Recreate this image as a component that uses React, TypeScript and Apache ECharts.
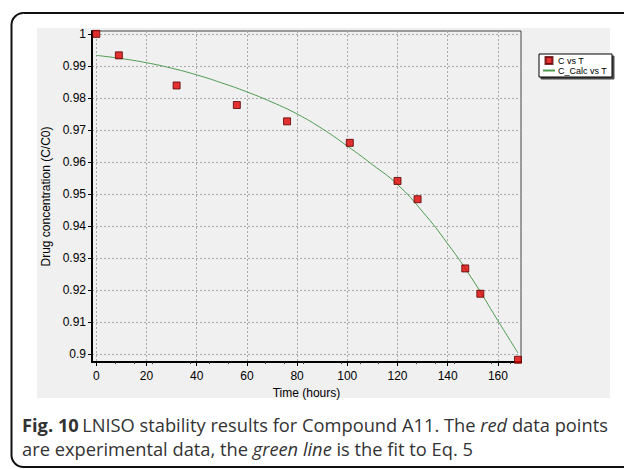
import React, { useEffect, useRef } from "react";
import * as echarts from "echarts";

const timeHours = [0, 9, 32, 56, 76, 101, 120, 128, 147, 153, 168];
const concentration = [1.0, 0.9933, 0.9839, 0.9778, 0.9727, 0.966, 0.9541, 0.9484, 0.9268, 0.9189, 0.8983];

const fitTime = [0, 10, 20, 30, 40, 50, 60, 70, 80, 90, 100, 110, 120, 130, 140, 150, 160, 168];
const fitConc = [0.9933, 0.9923, 0.991, 0.9893, 0.9872, 0.9847, 0.9819, 0.9787, 0.975, 0.9704, 0.965, 0.9592, 0.953, 0.9445, 0.9345, 0.9232, 0.9105, 0.9004];

const xTicks = [0, 20, 40, 60, 80, 100, 120, 140, 160];
const yTicks = [0.9, 0.91, 0.92, 0.93, 0.94, 0.95, 0.96, 0.97, 0.98, 0.99, 1.0];

const seriesNames = ["C vs T", "C_Calc vs T"];

export default function App() {
  const ref = useRef<HTMLDivElement>(null);
  useEffect(() => {
    document.body.style.margin = "0";
    if (!ref.current) return;
    const chart = echarts.init(ref.current, null, { renderer: "svg" });
    const font = "Liberation Sans, Arial, sans-serif";
    const capFont = "Open Sans";
    const capSize = 18.3;
    chart.setOption({
      animation: false,
      backgroundColor: "#ffffff",
      textStyle: { fontFamily: font },
      grid: {
        left: 92,
        right: 103,
        top: 31,
        bottom: 107,
        show: true,
        backgroundColor: "#f0f0f0",
        borderColor: "#444",
        borderWidth: 1,
        containLabel: false,
      },
      legend: {
        data: [
          { name: seriesNames[0], icon: "path://M0,0h10v10h-10z" },
          { name: seriesNames[1], itemStyle: { color: "rgba(0,0,0,0)", borderWidth: 0 } },
        ],
        orient: "vertical",
        left: 539,
        top: 54,
        padding: [2, 5, 2, 3],
        itemGap: 1,
        itemWidth: 12,
        itemHeight: 7,
        symbolKeepAspect: true,
        backgroundColor: "#ffffff",
        borderColor: "#000",
        borderWidth: 1,
        shadowColor: "rgba(0,0,0,0.7)",
        shadowBlur: 0,
        shadowOffsetX: 2,
        shadowOffsetY: 2,
        textStyle: { fontSize: 9, color: "#000", fontFamily: font, padding: [0, 0, 0, -2] },
      },
      xAxis: {
        type: "value",
        min: -1.7,
        max: 169.2,
        name: "Time (hours)",
        nameLocation: "middle",
        nameGap: 23,
        nameTextStyle: { fontSize: 12, color: "#000", fontFamily: font },
        axisLine: { show: true, onZero: false, lineStyle: { color: "#000", width: 2 } },
        axisTick: { show: true, customValues: xTicks, length: 4, lineStyle: { color: "#000" } },
        minorTick: { show: true, splitNumber: 4, length: 2, lineStyle: { color: "#333" } },
        axisLabel: {
          customValues: xTicks,
          fontSize: 12,
          color: "#000",
          margin: 8,
          fontFamily: font,
        },
        splitLine: {
          show: true,
          lineStyle: { color: "#aaa", type: [2, 2], width: 1 },
        },
      },
      yAxis: {
        type: "value",
        min: 0.8976,
        max: 1.0009,
        name: "Drug concentration (C/C0)",
        nameLocation: "middle",
        nameGap: 40,
        nameTextStyle: { fontSize: 12, color: "#000", fontFamily: font },
        axisLine: { show: true, onZero: false, lineStyle: { color: "#000", width: 2 } },
        axisTick: { show: true, customValues: yTicks, length: 4, lineStyle: { color: "#000" } },
        axisLabel: {
          customValues: yTicks,
          fontSize: 12,
          color: "#000",
          margin: 6,
          fontFamily: font,
          formatter: (v: number) => String(+v.toFixed(2)),
        },
        splitLine: {
          show: true,
          lineStyle: { color: "#aaa", type: [2, 2], width: 1 },
        },
      },
      graphic: [
        {
          type: "rect",
          z: -10,
          silent: true,
          shape: { x: 37, y: 28, width: 573, height: 370 },
          style: { fill: "#f0f0f0" },
        },
        {
          type: "rect",
          z: -5,
          silent: true,
          shape: { x: 11.5, y: 13, width: 700, height: 454, r: 12 },
          style: { fill: "none", stroke: "#111", lineWidth: 2 },
        },
        {
          type: "text",
          left: 22,
          top: 412,
          silent: true,
          style: {
            text:
              "{b|Fig. 10} {n|LNISO stability results for Compound A11. The }{i|red}{n| data points}\n{n|are experimental data, the }{i|green line}{n| is the fit to Eq. 5}",
            lineHeight: 24,
            fill: "#333",
            rich: {
              b: { fontFamily: capFont, fontSize: capSize, fontWeight: "bold", fill: "#333", lineHeight: 24 },
              n: { fontFamily: capFont, fontSize: capSize, fill: "#333", lineHeight: 24 },
              i: { fontFamily: capFont, fontSize: capSize, fontStyle: "italic", fill: "#333", lineHeight: 24 },
            },
          },
        },
      ],
      series: [
        {
          name: seriesNames[0],
          type: "scatter",
          symbol: "rect",
          symbolSize: 7,
          z: 5,
          itemStyle: { color: "#e00000", borderColor: "#5a0000", borderWidth: 1 },
          data: timeHours.map((t, i) => [t, concentration[i]]),
        },
        {
          name: seriesNames[1],
          type: "line",
          symbol: "none",
          smooth: true,
          z: 3,
          lineStyle: { color: "#4e9a50", width: 1 },
          itemStyle: { color: "#4e9a50" },
          data: fitTime.map((t, i) => [t, fitConc[i]]),
        },
      ],
    });
    return () => chart.dispose();
  }, []);
  return <div ref={ref} style={{ width: 624, height: 469 }} />;
}
